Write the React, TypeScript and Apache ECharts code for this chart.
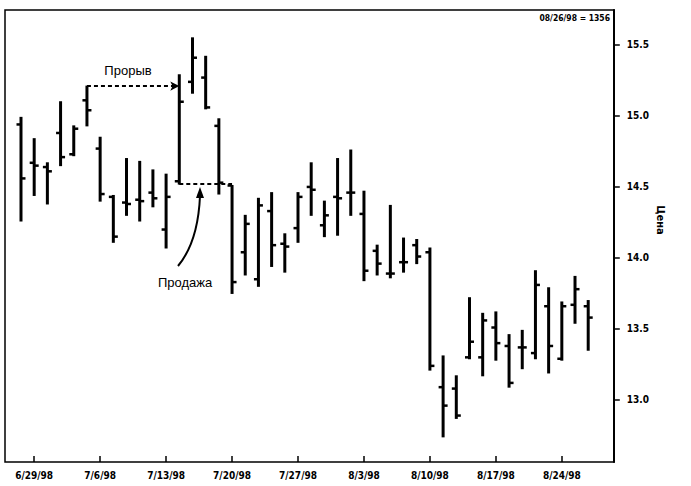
import React, { useEffect, useRef } from "react";
import * as echarts from "echarts";

const dates = [
  "6/26/98",
  "6/29/98", "6/30/98", "7/1/98", "7/2/98", "7/3/98",
  "7/6/98", "7/7/98", "7/8/98", "7/9/98", "7/10/98",
  "7/13/98", "7/14/98", "7/15/98", "7/16/98", "7/17/98",
  "7/20/98", "7/21/98", "7/22/98", "7/23/98", "7/24/98",
  "7/27/98", "7/28/98", "7/29/98", "7/30/98", "7/31/98",
  "8/3/98", "8/4/98", "8/5/98", "8/6/98", "8/7/98",
  "8/10/98", "8/11/98", "8/12/98", "8/13/98", "8/14/98",
  "8/17/98", "8/18/98", "8/19/98", "8/20/98", "8/21/98",
  "8/24/98", "8/25/98", "8/26/98",
];

const openP = [
  14.94, 14.67, 14.64, 14.88, 14.73, 15.11, 14.77, 14.43, 14.39, 14.41, 14.46,
  14.20, 14.54, 15.24, 15.27, 14.93, 14.51, 14.04, 13.85, 14.33, 14.10,
  14.21, 14.50, 14.23, 14.43, 14.46, 14.31, 14.05, 13.89, 13.97, 14.09,
  14.04, 13.09, 13.08, 13.30, 13.30, 13.51, 13.38, 13.37, 13.33, 13.66,
  13.29, 13.67, 13.66,
];
const highP = [
  14.99, 14.84, 14.67, 15.10, 14.93, 15.21, 14.85, 14.44, 14.70, 14.68, 14.62,
  14.59, 15.29, 15.55, 15.42, 14.98, 14.51, 14.30, 14.42, 14.46, 14.17,
  14.46, 14.67, 14.40, 14.70, 14.76, 14.47, 14.09, 14.37, 14.14, 14.13,
  14.07, 13.31, 13.17, 13.72, 13.61, 13.62, 13.46, 13.49, 13.91, 13.79,
  13.69, 13.87, 13.70,
];
const lowP = [
  14.26, 14.44, 14.38, 14.65, 14.72, 14.93, 14.40, 14.11, 14.30, 14.26, 14.36,
  14.07, 14.52, 15.16, 15.05, 14.45, 13.75, 13.88, 13.80, 13.94, 13.90,
  14.11, 14.30, 14.15, 14.16, 14.30, 13.84, 13.88, 13.86, 13.90, 13.96,
  13.21, 12.74, 12.87, 13.29, 13.17, 13.28, 13.09, 13.22, 13.29, 13.19,
  13.28, 13.54, 13.35,
];
const closeP = [
  14.56, 14.65, 14.61, 14.71, 14.91, 15.04, 14.45, 14.15, 14.38, 14.40, 14.42,
  14.43, 15.10, 15.41, 15.06, 14.53, 13.83, 14.24, 14.37, 14.09, 14.08,
  14.43, 14.48, 14.30, 14.42, 14.46, 13.91, 13.96, 13.89, 13.97, 14.01,
  13.24, 12.96, 12.89, 13.41, 13.56, 13.40, 13.12, 13.37, 13.81, 13.38,
  13.66, 13.78, 13.58,
];

const yTicks = [13.0, 13.5, 14.0, 14.5, 15.0, 15.5];
const mondayLabels = ["6/29/98", "7/6/98", "7/13/98", "7/20/98", "7/27/98", "8/3/98", "8/10/98", "8/17/98", "8/24/98"];

const breakoutFrom = 5; // index of bar whose high is broken
const breakoutTo = 12;
const sellFrom = 12;
const sellTo = 16;

const FONT = "'Liberation Sans Narrow', 'DejaVu Sans Condensed', 'Liberation Sans', sans-serif";

export default function App() {
  const ref = useRef<HTMLDivElement>(null);
  useEffect(() => {
    if (!ref.current) return;
    const chart = echarts.init(ref.current, undefined, { renderer: "svg" });
    const data = dates.map((d, i) => [i, openP[i], highP[i], lowP[i], closeP[i]]);
    const option: any = {
      animation: false,
      backgroundColor: "#fff",
      grid: { left: 14.4, right: 96.2, top: 10, bottom: 24, outerBoundsMode: "none" },
      xAxis: {
        type: "category",
        data: dates,
        boundaryGap: true,
        axisLine: { show: false },
        axisTick: {
          show: true,
          inside: true,
          length: 6,
          alignWithLabel: true,
          interval: (idx: number, val: string) => mondayLabels.includes(val),
          lineStyle: { color: "#000", width: 1.5 },
        },
        axisLabel: {
          interval: (idx: number, val: string) => mondayLabels.includes(val),
          color: "#000",
          fontFamily: FONT,
          fontWeight: "bold",
          fontSize: 10,
          margin: 8,
        },
        splitLine: { show: false },
      },
      yAxis: {
        type: "value",
        position: "right",
        offset: 19,
        min: 12.563,
        max: 15.746,
        axisLine: { show: true, lineStyle: { color: "#000", width: 2 } },
        axisTick: { show: true, length: 6, customValues: yTicks, lineStyle: { color: "#000", width: 1.5 } },
        axisLabel: {
          customValues: yTicks,
          formatter: (v: number) => v.toFixed(1),
          color: "#000",
          fontFamily: FONT,
          fontWeight: "bold",
          fontSize: 10,
          margin: 13,
        },
        splitLine: { show: false },
      },
      series: [
        {
          type: "custom",
          data,
          encode: { x: 0, y: [1, 2, 3, 4] },
          renderItem: (params: any, api: any) => {
            const i = api.value(0);
            const o = api.coord([i, api.value(1)]);
            const h = api.coord([i, api.value(2)]);
            const l = api.coord([i, api.value(3)]);
            const c = api.coord([i, api.value(4)]);
            const x = h[0];
            return {
              type: "group",
              children: [
                { type: "line", shape: { x1: x, y1: h[1] - 0.5, x2: x, y2: l[1] + 0.5 }, style: { stroke: "#000", lineWidth: 3 } },
                { type: "line", shape: { x1: x - 4.5, y1: o[1], x2: x, y2: o[1] }, style: { stroke: "#000", lineWidth: 2.5 } },
                { type: "line", shape: { x1: x, y1: c[1], x2: x + 4.5, y2: c[1] }, style: { stroke: "#000", lineWidth: 2.5 } },
              ],
            };
          },
        },
        {
          type: "scatter",
          data: [],
          silent: true,
          markLine: {
            silent: true,
            animation: false,
            label: { show: false },
            data: [
              [
                { coord: [dates[breakoutFrom], highP[breakoutFrom]], symbol: "none" },
                { coord: [dates[breakoutTo], highP[breakoutFrom]], symbol: "arrow", symbolSize: [7, 9] },
              ],
              [
                { coord: [dates[sellFrom], lowP[sellFrom]], symbol: "none" },
                { coord: [dates[sellTo], lowP[sellFrom]], symbol: "none" },
              ],
            ],
            lineStyle: { color: "#000", width: 1.8, type: [4, 3] },
          },
        },
      ],
      graphic: [
        { type: "rect", shape: { x: 5, y: 10, width: 609, height: 452 }, style: { fill: "none", stroke: "#000", lineWidth: 1.5 }, silent: true },
        { type: "text", x: 128, y: 70, style: { text: "Прорыв", fontFamily: "'Liberation Sans', Arial, sans-serif", fontSize: 13, fill: "#000", align: "center", verticalAlign: "middle" } },
        { type: "text", x: 185, y: 282, style: { text: "Продажа", fontFamily: "'Liberation Sans', Arial, sans-serif", fontSize: 13, fill: "#000", align: "center", verticalAlign: "middle" } },
        { type: "bezierCurve", shape: { x1: 178, y1: 266, x2: 200, y2: 196, cpx1: 198, cpy1: 242 }, style: { stroke: "#000", lineWidth: 2, fill: "none" } },
        { type: "polygon", shape: { points: [[200, 187], [196, 198], [204, 198]] }, style: { fill: "#000" } },
        { type: "text", x: 610, y: 18, style: { text: "08/26/98 = 1356", fontFamily: FONT, fontWeight: "bold", fontSize: 8.5, fill: "#000", align: "right", verticalAlign: "middle" } },
        { type: "text", x: 660, y: 220, rotation: -Math.PI / 2, style: { text: "Цена", fontFamily: FONT, fontWeight: "bold", fontSize: 11, fill: "#000", align: "center", verticalAlign: "middle" } },
      ],
    };
    chart.setOption(option);
    return () => chart.dispose();
  }, []);
  return <div ref={ref} style={{ position: "fixed", left: 0, top: 0, width: 691, height: 486 }} />;
}
